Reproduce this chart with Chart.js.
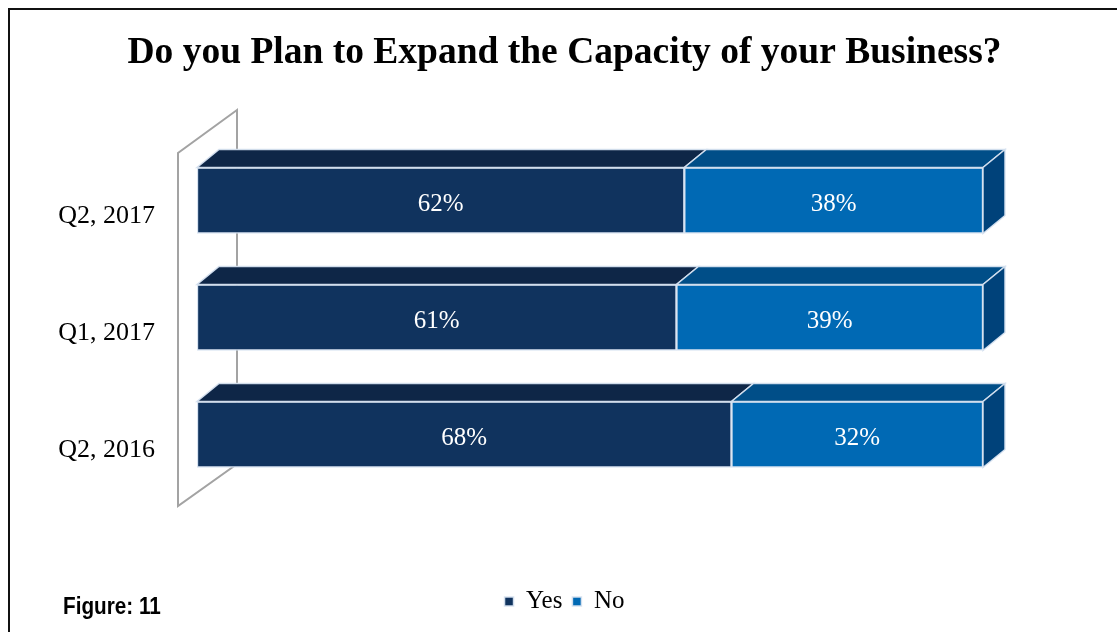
<!DOCTYPE html>
<html>
<head>
<meta charset="utf-8">
<script src="https://cdn.jsdelivr.net/npm/chart.js@4.4.1/dist/chart.umd.min.js"></script>
<style>
    html, body { margin: 0; padding: 0; background: #fff; overflow: hidden; }
    #frame { position: absolute; left: 8px; top: 8px; width: 1200px; height: 700px; border: 2px solid #111; }
    #wrap { position: absolute; left: 0; top: 0; width: 1117px; height: 632px; }
    #fig { position: absolute; left: 63px; top: 593px; font: bold 23px "Liberation Sans", sans-serif; color: #000;
           transform: scaleX(0.9); transform-origin: left top; }
</style>
</head>
<body>
<div id="frame"></div>
<div id="wrap"><canvas id="chart" width="1117" height="632"></canvas></div>
<div id="fig">Figure: 11</div>
<script>
// --- DATA ---
const categories = ['Q2, 2017', 'Q1, 2017', 'Q2, 2016'];
const yesValues = [62, 61, 68];
const noValues = [38, 39, 32];
const seriesNames = ['Yes', 'No'];

// --- STYLE ---
const SERIF = '"Liberation Serif", "Times New Roman", serif';
const FRONT = ['#10335e', '#0069b4'];
const TOP = ['#0e2647', '#004e88'];
const SIDE = '#00427a';
const EDGE = 'rgba(214,226,240,0.95)';
const DEPTH_X = 22, DEPTH_Y = -18;

// back wall of the 3D plot + top/side faces + value labels
const bar3d = {
    id: 'bar3d',
    beforeDatasetsDraw(chart) {
        const { ctx, chartArea: a } = chart;
        const fx = a.left - 19, bx = a.left + 40;
        ctx.save();
        ctx.strokeStyle = '#a3a3a3';
        ctx.lineWidth = 2;
        ctx.beginPath();
        ctx.moveTo(bx, a.top - 32);
        ctx.lineTo(fx, a.top + 11);
        ctx.lineTo(fx, a.bottom + 13);
        ctx.lineTo(bx, a.bottom - 29);
        ctx.closePath();
        ctx.stroke();
        ctx.restore();
    },
    afterDatasetsDraw(chart) {
        const { ctx } = chart;
        const last = chart.data.datasets.length - 1;
        ctx.save();
        ctx.lineWidth = 1.5;
        ctx.strokeStyle = EDGE;
        chart.data.datasets.forEach((ds, di) => {
            const meta = chart.getDatasetMeta(di);
            meta.data.forEach((bar, i) => {
                const p = bar.getProps(['x', 'y', 'base', 'height'], true);
                const top = p.y - p.height / 2, bottom = p.y + p.height / 2;
                // top face
                ctx.beginPath();
                ctx.moveTo(p.base, top);
                ctx.lineTo(p.x, top);
                ctx.lineTo(p.x + DEPTH_X, top + DEPTH_Y);
                ctx.lineTo(p.base + DEPTH_X, top + DEPTH_Y);
                ctx.closePath();
                ctx.fillStyle = TOP[di];
                ctx.fill();
                ctx.stroke();
                // right side face on the outer segment
                if (di === last) {
                    ctx.beginPath();
                    ctx.moveTo(p.x, top);
                    ctx.lineTo(p.x + DEPTH_X, top + DEPTH_Y);
                    ctx.lineTo(p.x + DEPTH_X, bottom + DEPTH_Y);
                    ctx.lineTo(p.x, bottom);
                    ctx.closePath();
                    ctx.fillStyle = SIDE;
                    ctx.fill();
                    ctx.stroke();
                }
                // value label
                ctx.fillStyle = '#fff';
                ctx.font = '25px ' + SERIF;
                ctx.textAlign = 'center';
                ctx.textBaseline = 'middle';
                ctx.fillText(ds.data[i] + '%', (p.base + p.x) / 2, p.y + 4);
            });
        });
        ctx.restore();
    }
};

new Chart(document.getElementById('chart'), {
    type: 'bar',
    data: {
        labels: categories,
        datasets: [
            { label: seriesNames[0], data: yesValues, backgroundColor: FRONT[0] },
            { label: seriesNames[1], data: noValues, backgroundColor: FRONT[1] }
        ]
    },
    options: {
        indexAxis: 'y',
        responsive: false,
        animation: false,
        datasets: {
            bar: {
                barThickness: 66,
                borderColor: EDGE,
                borderWidth: 1.5,
                borderSkipped: false
            }
        },
        layout: { padding: { left: 12, right: 0, top: 0, bottom: 8 } },
        scales: {
            x: {
                stacked: true,
                min: 0,
                max: 100,
                ticks: { display: false },
                grid: { display: false, drawTicks: false },
                border: { display: false },
                afterFit: s => { s.height = 86; }
            },
            y: {
                stacked: true,
                grid: { display: false, drawTicks: false },
                border: { display: false },
                ticks: {
                    color: '#000',
                    font: { family: SERIF, size: 26 },
                    padding: 42,
                    labelOffset: 16
                },
                afterFit: s => { s.width = 185; }
            },
            // empty right-hand axis, only reserves the space right of the bars
            yr: {
                type: 'linear',
                position: 'right',
                ticks: { display: false },
                grid: { display: false, drawTicks: false },
                border: { display: false },
                afterFit: s => { s.width = 134; }
            }
        },
        plugins: {
            title: {
                display: true,
                text: 'Do you Plan to Expand the Capacity of your Business?',
                color: '#000',
                font: { family: SERIF, size: 37.5, weight: 'bold' },
                padding: { top: 31, bottom: 66 }
            },
            legend: {
                position: 'bottom',
                labels: {
                    color: '#000',
                    font: { family: SERIF, size: 25 },
                    boxWidth: 9,
                    boxHeight: 9,
                    padding: 10
                }
            },
            tooltip: { enabled: false }
        }
    },
    plugins: [bar3d]
});
</script>
</body>
</html>
